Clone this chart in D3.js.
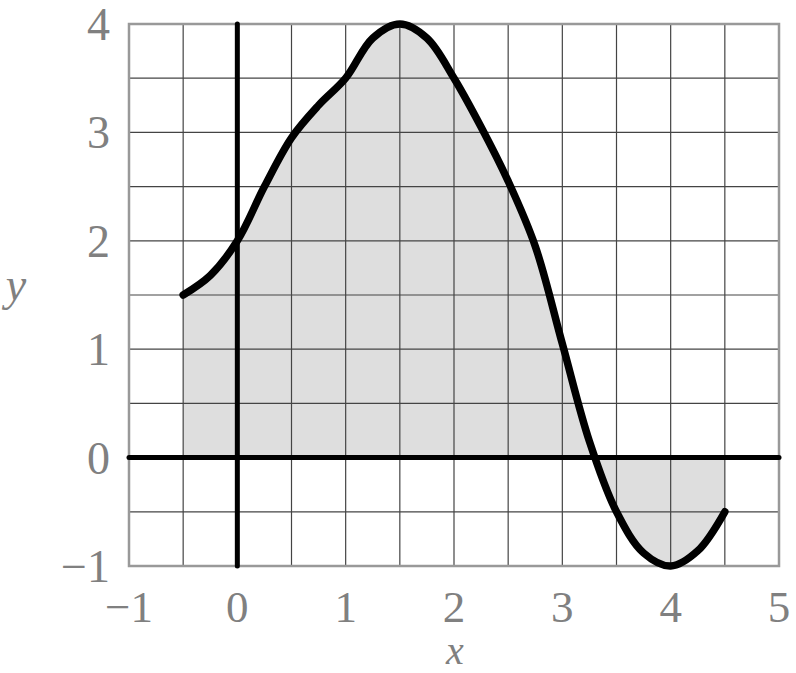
<!DOCTYPE html>
<html>
<head>
<meta charset="utf-8">
<script src="https://cdn.jsdelivr.net/npm/d3@7"></script>
<style>
  body { margin: 0; background: #fff; }
  text { font-family: "Liberation Serif", "DejaVu Serif", serif; fill: #808080; }
</style>
</head>
<body>
<svg id="chart" width="796" height="673"></svg>
<script>
// curve samples
var xs = [-0.5, -0.25, 0, 0.25, 0.5, 0.75, 1, 1.25, 1.5, 1.75, 2, 2.25, 2.5, 2.75, 3, 3.25, 3.5, 3.75, 4, 4.25, 4.5];
var ys = [1.5, 1.68, 2, 2.5, 2.95, 3.25, 3.5, 3.87, 4, 3.87, 3.5, 3.05, 2.55, 1.95, 1.05, 0.15, -0.5, -0.88, -1, -0.86, -0.5];
var xTicks = [-1, 0, 1, 2, 3, 4, 5];
var yTicks = [-1, 0, 1, 2, 3, 4];
var gridX = d3.range(-1, 5.01, 0.5);
var gridY = d3.range(-1, 4.01, 0.5);

var pts = xs.map(function(x, i) { return { x: x, y: ys[i] }; });

var svg = d3.select("#chart");
var x = d3.scaleLinear().domain([-1, 5]).range([129, 779]);
var y = d3.scaleLinear().domain([-1, 4]).range([566, 24]);

var curve = d3.curveCatmullRom.alpha(0.5);

svg.append("path")
	.datum(pts)
	.attr("fill", "#dedede")
	.attr("d", d3.area()
		.x(function(d) { return x(d.x); })
		.y0(y(0))
		.y1(function(d) { return y(d.y); })
		.curve(curve));

var grid = svg.append("g")
	.attr("stroke", "#444")
	.attr("stroke-width", 1.2);
grid.selectAll("line.v")
	.data(gridX)
	.enter()
	.append("line")
	.attr("x1", function(d) { return x(d); })
	.attr("x2", function(d) { return x(d); })
	.attr("y1", y(-1))
	.attr("y2", y(4));
grid.selectAll("line.h")
	.data(gridY)
	.enter()
	.append("line")
	.attr("y1", function(d) { return y(d); })
	.attr("y2", function(d) { return y(d); })
	.attr("x1", x(-1))
	.attr("x2", x(5));

// outer frame
svg.append("rect")
	.attr("x", x(-1))
	.attr("y", y(4))
	.attr("width", x(5) - x(-1))
	.attr("height", y(-1) - y(4))
	.attr("fill", "none")
	.attr("stroke", "#999")
	.attr("stroke-width", 2.5);

// axes
svg.append("line")
	.attr("x1", x(-1)).attr("x2", x(5))
	.attr("y1", y(0)).attr("y2", y(0))
	.attr("stroke", "#000").attr("stroke-width", 5).attr("stroke-linecap", "round");
svg.append("line")
	.attr("x1", x(0)).attr("x2", x(0))
	.attr("y1", y(-1)).attr("y2", y(4))
	.attr("stroke", "#000").attr("stroke-width", 5).attr("stroke-linecap", "round");

svg.append("path")
	.datum(pts)
	.attr("fill", "none")
	.attr("stroke", "#000")
	.attr("stroke-width", 7.5)
	.attr("stroke-linecap", "round")
	.attr("stroke-linejoin", "round")
	.attr("d", d3.line()
		.x(function(d) { return x(d.x); })
		.y(function(d) { return y(d.y); })
		.curve(curve));

function fmt(v) { return v < 0 ? "\u2212" + Math.abs(v) : String(v); }

svg.selectAll("text.xt")
	.data(xTicks)
	.enter()
	.append("text")
	.attr("x", function(d) { return x(d); })
	.attr("y", 622)
	.attr("text-anchor", "middle")
	.attr("font-size", 45)
	.text(fmt);

svg.selectAll("text.yt")
	.data(yTicks)
	.enter()
	.append("text")
	.attr("x", 110)
	.attr("y", function(d) { return y(d) + 16; })
	.attr("text-anchor", "end")
	.attr("font-size", 46)
	.text(fmt);

svg.append("text")
	.attr("x", 455).attr("y", 664)
	.attr("text-anchor", "middle")
	.attr("font-size", 40)
	.attr("font-style", "italic")
	.text("x");
svg.append("text")
	.attr("x", 16).attr("y", 300)
	.attr("text-anchor", "middle")
	.attr("font-size", 46)
	.attr("font-style", "italic")
	.text("y");
</script>
</body>
</html>
